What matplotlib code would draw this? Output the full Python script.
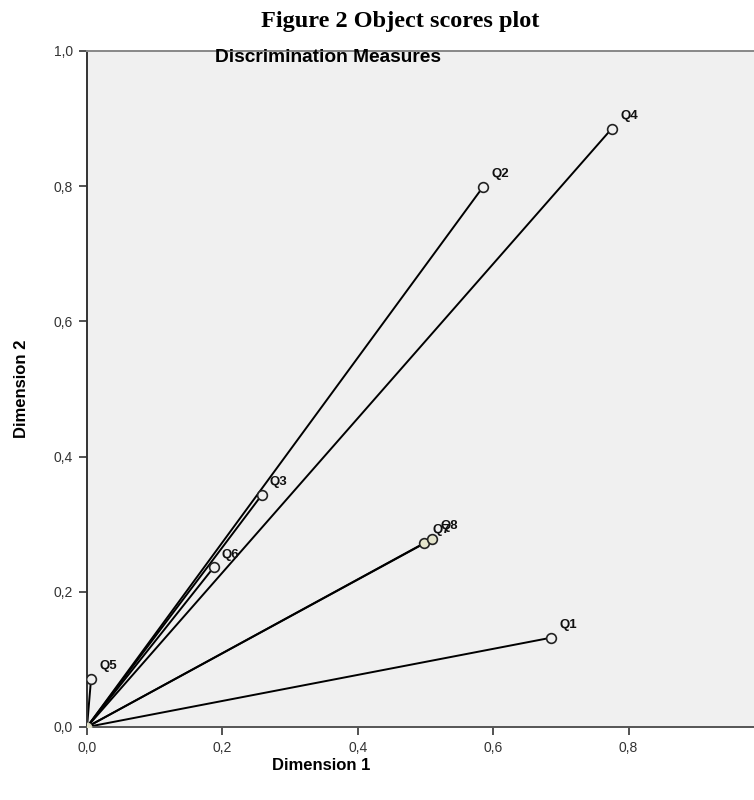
from matplotlib import pyplot as plt
from matplotlib.ticker import FuncFormatter

# discrimination measures
items = ['Q1', 'Q2', 'Q3', 'Q4', 'Q5', 'Q6', 'Q7', 'Q8']
dim1 = [0.685, 0.585, 0.258, 0.775, 0.006, 0.187, 0.498, 0.510]
dim2 = [0.132, 0.799, 0.343, 0.885, 0.071, 0.236, 0.272, 0.278]
ticks = [0.0, 0.2, 0.4, 0.6, 0.8, 1.0]

fig = plt.figure(figsize=(7.54, 8.0), dpi=100)
ax = fig.add_axes([87/754, 1-727/800, (754-87)/754, (727-51)/800])
ax.set_facecolor('#f0f0f0')

for x, y in zip(dim1, dim2):
    ax.plot([0, x], [0, y], color='black', lw=1.4, zorder=2)
for name, x, y in zip(items, dim1, dim2):
    face = '#e4e4cc' if name in ('Q7', 'Q8') else '#f0f0f0'
    ax.plot(x, y, 'o', ms=7, mfc=face, mec='#222222', mew=1.2, zorder=3)
    ax.annotate(name, (x, y), xytext=(6, 5), textcoords='offset points',
                fontsize=9.5, fontweight='bold', family='Liberation Sans',
                ha='left', va='bottom', color='#111111')
ax.plot(0, 0, 'o', ms=6, mfc='#e4e4cc', mec='#d8d8c0', zorder=4)

ax.set_xlim(0, (754-87)/677)
ax.set_ylim(0, 1.0)
ax.set_xticks(ticks[:-1])
ax.set_yticks(ticks)
fmt = FuncFormatter(lambda v, p: ('%.1f' % v).replace('.', ','))
ax.xaxis.set_major_formatter(fmt)
ax.yaxis.set_major_formatter(fmt)
ax.tick_params(direction='out', length=6, width=1.3, colors='#444444',
               labelsize=10, labelcolor='#333333', pad=4)
for lab in ax.get_xticklabels() + ax.get_yticklabels():
    lab.set_family('Liberation Sans')

ax.spines['right'].set_visible(False)
ax.spines['top'].set_color('#888888')
ax.spines['left'].set_color('#333333')
ax.spines['bottom'].set_color('#555555')
for s in ('top', 'left', 'bottom'):
    ax.spines[s].set_linewidth(1.4)

fig.text(321/754, 1-765/800, 'Dimension 1', fontsize=12, fontweight='bold',
         family='Liberation Sans', ha='center', va='center')
fig.text(22/754, 1-389/800, 'Dimension 2', fontsize=12, fontweight='bold',
         family='Liberation Sans', ha='center', va='center', rotation=90)

fig.text(400/754, 1-22/800, 'Figure 2 Object scores plot', fontsize=17.5,
         fontweight='bold', family='Liberation Serif', ha='center', va='center')
fig.text(328/754, 1-58/800, 'Discrimination Measures', fontsize=13.8,
         fontweight='bold', family='Liberation Sans', ha='center', va='center')

fig.savefig('out.png', dpi=100)
